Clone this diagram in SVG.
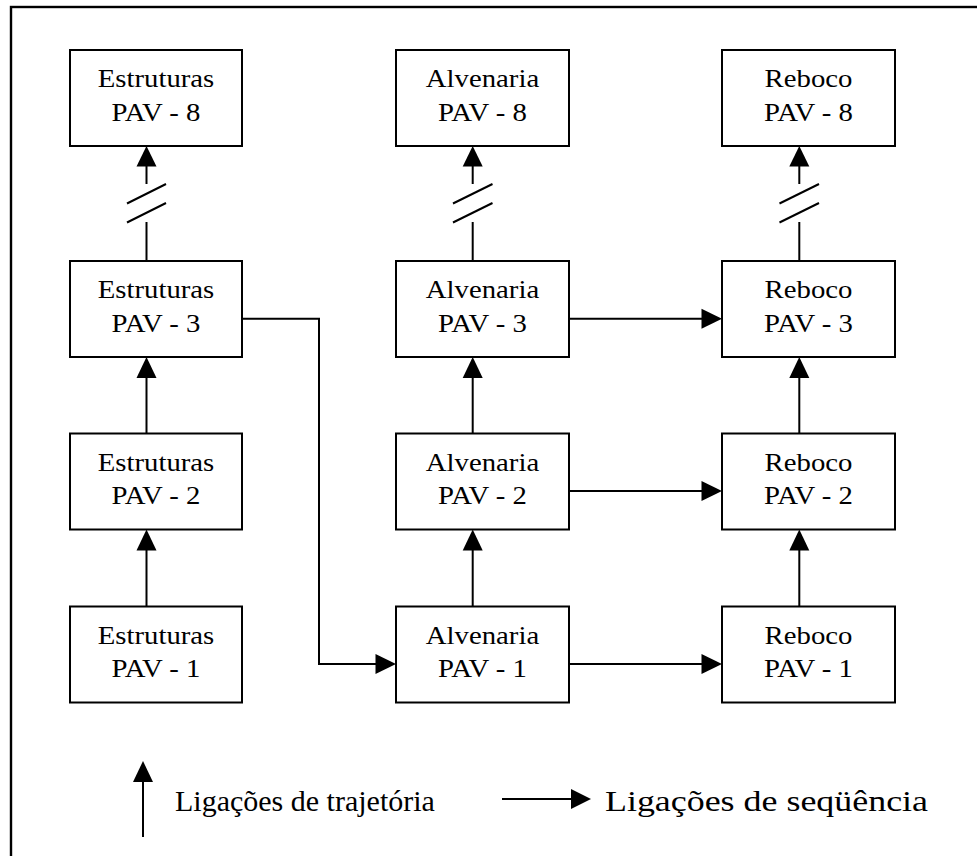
<svg xmlns="http://www.w3.org/2000/svg" width="977" height="856" viewBox="0 0 977 856">
<style>
  .box { fill: #fff; stroke: #000; stroke-width: 2; }
  .t { font-family: "Liberation Serif", "Times New Roman", serif; font-size: 25px; fill: #000; text-anchor: middle; }
  .lg { font-family: "Liberation Serif", "Times New Roman", serif; font-size: 30px; fill: #000; }
  .ln { fill: none; stroke: #000; stroke-width: 2; }
  .ah { fill: #000; stroke: none; }
</style>
<rect x="0" y="0" width="977" height="856" fill="#fff"/>
<rect x="11" y="7" width="1000" height="900" fill="none" stroke="#000" stroke-width="2.4"/>

<g id="connectors">
  <!-- Estruturas column -->
  <line class="ln" x1="146.5" y1="606.5" x2="146.5" y2="545"/>
  <polygon class="ah" points="146.5,529.5 136.5,550.5 156.5,550.5"/>
  <line class="ln" x1="146.5" y1="433.5" x2="146.5" y2="372"/>
  <polygon class="ah" points="146.5,357 136.5,378 156.5,378"/>
  <line class="ln" x1="146.5" y1="261" x2="146.5" y2="222"/>
  <line class="ln" x1="146.5" y1="184" x2="146.5" y2="160"/>
  <polygon class="ah" points="146.5,146 136.5,166.5 156.5,166.5"/>
  <line class="ln" x1="127" y1="203.5" x2="166" y2="184"/>
  <line class="ln" x1="127" y1="222.5" x2="166" y2="203"/>

  <!-- Alvenaria column -->
  <line class="ln" x1="472.7" y1="606.5" x2="472.7" y2="545"/>
  <polygon class="ah" points="472.7,529.5 462.7,550.5 482.7,550.5"/>
  <line class="ln" x1="472.7" y1="433.5" x2="472.7" y2="372"/>
  <polygon class="ah" points="472.7,357 462.7,378 482.7,378"/>
  <line class="ln" x1="472.7" y1="261" x2="472.7" y2="222"/>
  <line class="ln" x1="472.7" y1="184" x2="472.7" y2="160"/>
  <polygon class="ah" points="472.7,146 462.7,166.5 482.7,166.5"/>
  <line class="ln" x1="453" y1="203.5" x2="492.5" y2="184"/>
  <line class="ln" x1="453" y1="222.5" x2="492.5" y2="203"/>

  <!-- Reboco column -->
  <line class="ln" x1="799.3" y1="606.5" x2="799.3" y2="545"/>
  <polygon class="ah" points="799.3,529.5 789.3,550.5 809.3,550.5"/>
  <line class="ln" x1="799.3" y1="433.5" x2="799.3" y2="372"/>
  <polygon class="ah" points="799.3,357 789.3,378 809.3,378"/>
  <line class="ln" x1="799.3" y1="261" x2="799.3" y2="222"/>
  <line class="ln" x1="799.3" y1="184" x2="799.3" y2="160"/>
  <polygon class="ah" points="799.3,146 789.3,166.5 809.3,166.5"/>
  <line class="ln" x1="779.5" y1="203.5" x2="819" y2="184"/>
  <line class="ln" x1="779.5" y1="222.5" x2="819" y2="203"/>

  <!-- sequence links -->
  <line class="ln" x1="569" y1="318.7" x2="705" y2="318.7"/>
  <polygon class="ah" points="722,318.7 701.5,308.7 701.5,328.7"/>
  <line class="ln" x1="569" y1="491" x2="705" y2="491"/>
  <polygon class="ah" points="722,491 701.5,481 701.5,501"/>
  <line class="ln" x1="569" y1="664" x2="705" y2="664"/>
  <polygon class="ah" points="722,664 701.5,654 701.5,674"/>
  <polyline class="ln" points="242,318.7 319,318.7 319,664 379,664"/>
  <polygon class="ah" points="396,664 375.5,654 375.5,674"/>
</g>

<g id="est8"><rect class="box" x="70" y="50" width="172" height="96"/><text class="t" transform="matrix(1.15 0 0 1 156 0)" y="87.3">Estruturas</text><text class="t" transform="matrix(1.15 0 0 1 156 0)" y="120.7">PAV - 8</text></g>
<g id="est3"><rect class="box" x="70" y="261" width="172" height="96"/><text class="t" transform="matrix(1.15 0 0 1 156 0)" y="298.3">Estruturas</text><text class="t" transform="matrix(1.15 0 0 1 156 0)" y="331.7">PAV - 3</text></g>
<g id="est2"><rect class="box" x="70" y="433.5" width="172" height="96"/><text class="t" transform="matrix(1.15 0 0 1 156 0)" y="470.8">Estruturas</text><text class="t" transform="matrix(1.15 0 0 1 156 0)" y="504.2">PAV - 2</text></g>
<g id="est1"><rect class="box" x="70" y="606.5" width="172" height="96"/><text class="t" transform="matrix(1.15 0 0 1 156 0)" y="644">Estruturas</text><text class="t" transform="matrix(1.15 0 0 1 156 0)" y="677.3">PAV - 1</text></g>

<g id="alv8"><rect class="box" x="396" y="50" width="173" height="96"/><text class="t" transform="matrix(1.15 0 0 1 482.5 0)" y="87.3">Alvenaria</text><text class="t" transform="matrix(1.15 0 0 1 482.5 0)" y="120.7">PAV - 8</text></g>
<g id="alv3"><rect class="box" x="396" y="261" width="173" height="96"/><text class="t" transform="matrix(1.15 0 0 1 482.5 0)" y="298.3">Alvenaria</text><text class="t" transform="matrix(1.15 0 0 1 482.5 0)" y="331.7">PAV - 3</text></g>
<g id="alv2"><rect class="box" x="396" y="433.5" width="173" height="96"/><text class="t" transform="matrix(1.15 0 0 1 482.5 0)" y="470.8">Alvenaria</text><text class="t" transform="matrix(1.15 0 0 1 482.5 0)" y="504.2">PAV - 2</text></g>
<g id="alv1"><rect class="box" x="396" y="606.5" width="173" height="96"/><text class="t" transform="matrix(1.15 0 0 1 482.5 0)" y="644">Alvenaria</text><text class="t" transform="matrix(1.15 0 0 1 482.5 0)" y="677.3">PAV - 1</text></g>

<g id="reb8"><rect class="box" x="722" y="50" width="173" height="96"/><text class="t" transform="matrix(1.15 0 0 1 808.5 0)" y="87.3">Reboco</text><text class="t" transform="matrix(1.15 0 0 1 808.5 0)" y="120.7">PAV - 8</text></g>
<g id="reb3"><rect class="box" x="722" y="261" width="173" height="96"/><text class="t" transform="matrix(1.15 0 0 1 808.5 0)" y="298.3">Reboco</text><text class="t" transform="matrix(1.15 0 0 1 808.5 0)" y="331.7">PAV - 3</text></g>
<g id="reb2"><rect class="box" x="722" y="433.5" width="173" height="96"/><text class="t" transform="matrix(1.15 0 0 1 808.5 0)" y="470.8">Reboco</text><text class="t" transform="matrix(1.15 0 0 1 808.5 0)" y="504.2">PAV - 2</text></g>
<g id="reb1"><rect class="box" x="722" y="606.5" width="173" height="96"/><text class="t" transform="matrix(1.15 0 0 1 808.5 0)" y="644">Reboco</text><text class="t" transform="matrix(1.15 0 0 1 808.5 0)" y="677.3">PAV - 1</text></g>

<g id="legend">
  <line class="ln" x1="143" y1="837" x2="143" y2="776"/>
  <polygon class="ah" points="143,761 133,782 153,782"/>
  <text class="lg" x="175" y="810.7">Ligações de trajetória</text>
  <line class="ln" x1="502" y1="799" x2="575" y2="799"/>
  <polygon class="ah" points="591,799 571,789 571,809"/>
  <text class="lg" x="605" y="810.7" textLength="323" lengthAdjust="spacingAndGlyphs">Ligações de seqüência</text>
</g>
</svg>
